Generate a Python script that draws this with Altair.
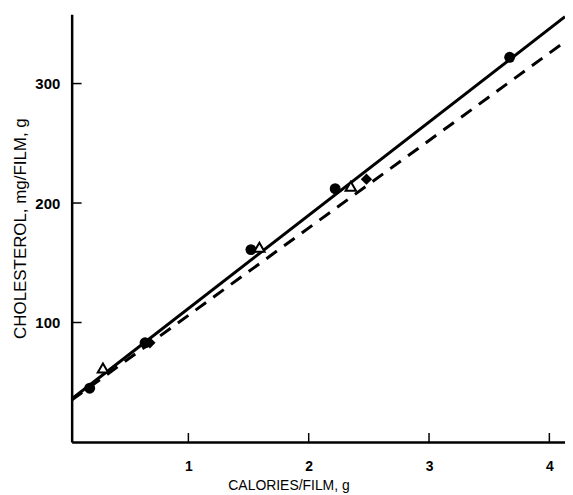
import altair as alt
import pandas as pd

# data
circle_x = [0.18, 0.64, 1.52, 2.22, 3.67]
circle_y = [45, 83, 161, 212, 322]
tri_x = [0.29, 1.59, 2.35]
tri_y = [62, 163, 214]
dia_x = [0.68, 2.48]
dia_y = [83, 220]
solid_x = [0.03, 4.13]
solid_y = [36, 356]
dashed_x = [0.03, 4.13]
dashed_y = [35, 335]
xticks = [1, 2, 3, 4]
yticks = [100, 200, 300]

FONT = "Liberation Sans"
W, H = 496, 430
xs = alt.Scale(domain=[0.03, 4.13], nice=False, zero=False)
ys = alt.Scale(domain=[0, 358], nice=False, zero=False)

xaxis = alt.Axis(
    values=xticks, format="d", ticks=False, tickSize=0, grid=False,
    domainColor="black", domainWidth=2.5,
    labelFont=FONT, labelFontSize=14, labelFontWeight="bold", labelColor="black",
    labelPadding=18,
    title="CALORIES/FILM, g", titleFont=FONT, titleFontSize=14,
    titleFontWeight="normal", titleColor="black",
    titleX=218, titleY=44, titleAlign="center", titleBaseline="middle")
yaxis = alt.Axis(
    values=yticks, format="d", ticks=False, tickSize=0, grid=False,
    domainColor="black", domainWidth=2.5,
    labelFont=FONT, labelFontSize=15, labelFontWeight="bold", labelColor="black",
    labelPadding=12,
    title="CHOLESTEROL, mg/FILM, g", titleFont=FONT, titleFontSize=17,
    titleFontWeight="normal", titleColor="black",
    titleX=-51, titleY=H / 2, titleAlign="center", titleBaseline="middle",
    titleAngle=270)

X = alt.X("x:Q", scale=xs, axis=xaxis)
Y = alt.Y("y:Q", scale=ys, axis=yaxis)

circles = pd.DataFrame({"x": circle_x, "y": circle_y})
tris = pd.DataFrame({"x": tri_x, "y": tri_y})
dias = pd.DataFrame({"x": dia_x, "y": dia_y})
solid = pd.DataFrame({"x": solid_x, "y": solid_y})
dashed = pd.DataFrame({"x": dashed_x, "y": dashed_y})
xt = pd.DataFrame({"x": xticks})
yt = pd.DataFrame({"y": yticks})

solid_line = alt.Chart(solid).mark_line(color="black", strokeWidth=3).encode(x=X, y=Y)
dash_line = alt.Chart(dashed).mark_line(color="black", strokeWidth=3, strokeDash=[13, 9]).encode(x=X, y=Y)

xtick_layer = alt.Chart(xt).mark_rule(color="black", strokeWidth=1.5).encode(
    x=X, y=alt.value(H), y2=alt.value(H - 9))
ytick_layer = alt.Chart(yt).mark_rule(color="black", strokeWidth=1.5).encode(
    y=Y, x=alt.value(0), x2=alt.value(10))

pc = alt.Chart(circles).mark_point(shape="circle", filled=True, size=120, color="black", opacity=1).encode(x=X, y=Y)
pt = alt.Chart(tris).mark_point(shape="triangle-up", filled=True, fill="white", stroke="black",
                                strokeWidth=2, size=110, opacity=1).encode(x=X, y=Y)
pdm = alt.Chart(dias).mark_point(shape="diamond", filled=True, size=130, color="black", opacity=1).encode(x=X, y=Y)

chart = alt.layer(solid_line, dash_line, xtick_layer, ytick_layer, pc, pt, pdm).properties(
    width=W, height=H,
    autosize=alt.AutoSizeParams(type="none"),
    padding={"left": 64, "top": 5, "right": 0, "bottom": 50},
    background="white",
).configure_view(stroke=None)

chart.save("out.html", embed_options={"renderer": "svg", "actions": False})
